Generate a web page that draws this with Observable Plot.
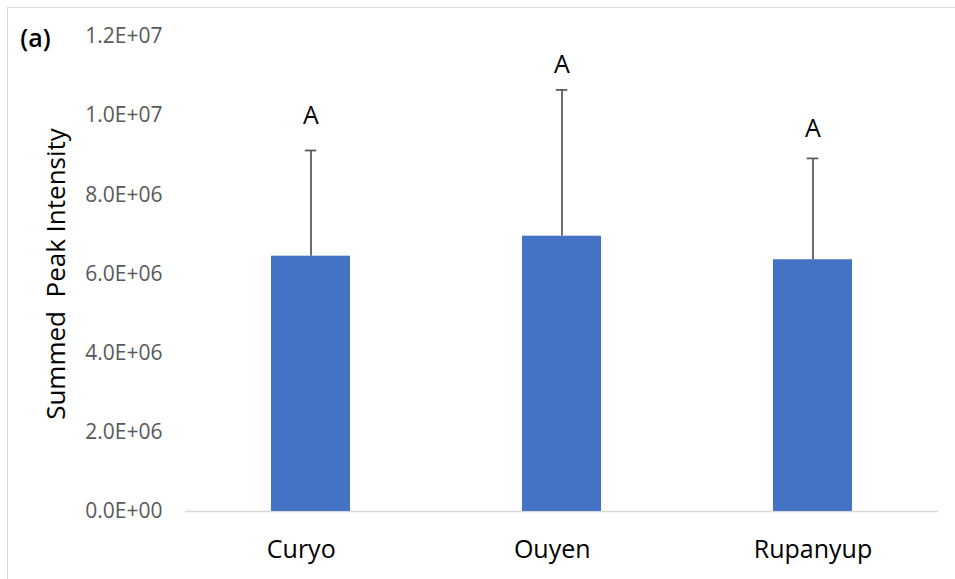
<!DOCTYPE html>
<html>
<head>
<meta charset="utf-8">
<script src="https://cdn.jsdelivr.net/npm/d3@7"></script>
<script src="https://cdn.jsdelivr.net/npm/@observablehq/plot@0.6"></script>
<style>
  html, body { margin: 0; padding: 0; background: #fff; overflow: hidden; }
  #wrap { position: relative; width: 955px; height: 579px; }
  #frame { position: absolute; left: 7px; top: 7px; width: 1200px; height: 1200px; border-left: 1.5px solid #d9d9d9; border-top: 1.5px solid #d9d9d9; box-sizing: border-box; }
  #chart { position: absolute; left: 0; top: 0; }
  svg text { white-space: pre; }
</style>
</head>
<body>
<div id="wrap"><div id="frame"></div><div id="chart"></div></div>
<script>
const categories = ["Curyo", "Ouyen", "Rupanyup"];
const xTickLabels = ["Curyo   ", "Ouyen   ", "Rupanyup"];
const means = [6.45e6, 6.955e6, 6.36e6];
const upper = [9.12e6, 10.65e6, 8.92e6];
const letters = ["A", "A", "A"];
const letterY = [9.98e6, 11.28e6, 9.66e6];
const yTicks = [0, 2e6, 4e6, 6e6, 8e6, 1e7, 1.2e7];
const yTickLabels = ["0.0E+00", "2.0E+06", "4.0E+06", "6.0E+06", "8.0E+06", "1.0E+07", "1.2E+07"];
const yLabel = "Summed  Peak Intensity";
const panelLabel = "(a)";

const data = categories.map((c, i) => ({cat: c, mean: means[i], upper: upper[i], letter: letters[i], ly: letterY[i]}));
const font = "'Open Sans', 'Noto Sans', sans-serif";

const chart = Plot.plot({
  width: 955,
  height: 579,
  marginLeft: 185,
  marginRight: 17,
  marginTop: 36,
  marginBottom: 68,
  style: {fontFamily: font, background: "transparent", overflow: "visible"},
  x: {domain: categories, paddingInner: 0.687, paddingOuter: 0.3435, label: null, axis: null},
  y: {domain: [0, 1.2e7], label: null, axis: null},
  marks: [
    Plot.axisY({ticks: yTicks, tickFormat: d => yTickLabels[yTicks.indexOf(d)], tickSize: 0, tickPadding: 23, fontSize: 21, fill: "#595959", label: null}),
    Plot.axisX({tickSize: 0, tickPadding: 29, fontSize: 25, fill: "#000", label: null, tickFormat: d => xTickLabels[categories.indexOf(d)]}),
    Plot.ruleY([0], {stroke: "#d9d9d9", strokeWidth: 1.5}),
    Plot.barY(data, {x: "cat", y: "mean", fill: "#4472C4"}),
    Plot.ruleX(data, {x: "cat", y1: "mean", y2: "upper", stroke: "#595959", strokeWidth: 1.75}),
    Plot.tickY(data, {x: "cat", y: "upper", stroke: "#595959", strokeWidth: 1.75, insetLeft: 33.75, insetRight: 33.75}),
    Plot.text(data, {x: "cat", y: "ly", text: "letter", fontSize: 25, fill: "#000", lineAnchor: "middle"}),
    Plot.text([yLabel], {text: d => d, frameAnchor: "left", dx: -129, rotate: -90, fontSize: 26, fill: "#000", textAnchor: "middle"}),
    Plot.text([panelLabel], {text: d => d, frameAnchor: "top-left", dx: -150, dy: 2, fontSize: 25, fontWeight: 600, fill: "#000", textAnchor: "middle", lineAnchor: "middle"})
  ]
});
document.getElementById("chart").appendChild(chart);
</script>
</body>
</html>
